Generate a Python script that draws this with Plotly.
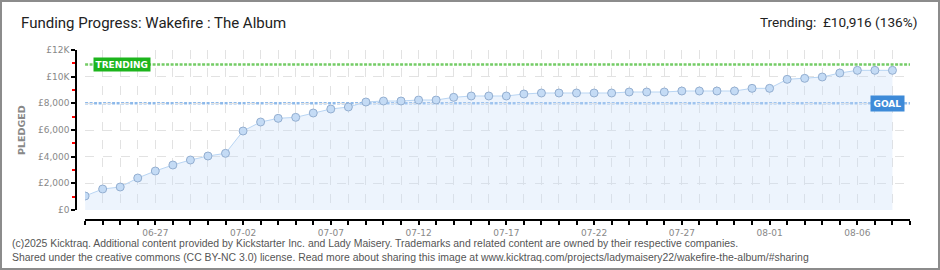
import plotly.graph_objects as go
import pandas as pd

# ---- data ----
start_date = "2025-06-23"
pledged = [1050, 1575, 1725, 2400, 2925, 3375, 3750, 4050, 4250, 5925,
           6600, 6875, 6950, 7275, 7575, 7725, 8100, 8175, 8175, 8250,
           8250, 8450, 8550, 8550, 8550, 8700, 8775, 8775, 8775, 8775,
           8775, 8850, 8850, 8850, 8925, 8925, 8925, 8925, 9125, 9125,
           9800, 9875, 9975, 10275, 10475, 10475, 10475]
goal = 8000
trending = 10916
axis_end = "2025-08-09"
y_tickvals = [0, 2000, 4000, 6000, 8000, 10000, 12000]
y_ticktext = ["£0", "£2,000", "£4,000", "£6,000", "£8,000", "£10K", "£12K"]
y_minorvals = [1000, 3000, 5000, 7000, 9000, 11000]
title_text = "Funding Progress: Wakefire : The Album"
trend_text = "Trending:  £10,916 (136%)"
footer1 = ("(c)2025 Kicktraq. Additional content provided by Kickstarter Inc. and Lady Maisery. "
           "Trademarks and related content are owned by their respective companies.")
footer2 = ("Shared under the creative commons (CC BY-NC 3.0) license. Read more about sharing this image at "
           "www.kicktraq.com/projects/ladymaisery22/wakefire-the-album/#sharing")

dates = pd.date_range(start_date, periods=len(pledged), freq="D")
tick_dates = pd.date_range(start_date, axis_end, freq="D")
tick_text = [d.strftime("%m-%d") if (i % 5 == 4) else "" for i, d in enumerate(tick_dates)]

# ---- layout geometry (pixels) ----
W, H = 940, 270
L, R, T, B = 76, 30, 50, 50
PW, PH = W - L - R, H - T - B


def px(xp):
    return (xp - L) / PW


def py(yp):
    return (H - B - yp) / PH


fig = go.Figure()
fig.add_trace(go.Scatter(
    x=dates, y=pledged, mode="lines+markers",
    line=dict(color="#b9d5f3", width=1),
    marker=dict(size=8, color="#c4dbf5", line=dict(color="#93aed0", width=1)),
    fill="tozeroy", fillcolor="rgba(200,222,248,0.32)",
    hoverinfo="skip", showlegend=False,
))

shapes = [
    dict(type="line", xref="x domain", yref="y", x0=0, x1=1, y0=goal, y1=goal,
         line=dict(color="#8db9ea", width=2.5, dash="3px,1.5px"), layer="below"),
    dict(type="line", xref="x domain", yref="y", x0=0, x1=1, y0=trending, y1=trending,
         line=dict(color="#74cc66", width=2.5, dash="3px,1.5px"), layer="below"),
    dict(type="rect", xref="paper", yref="paper",
         x0=px(1), x1=px(939), y0=py(269), y1=py(1),
         line=dict(color="#8c8c8c", width=2), fillcolor="rgba(0,0,0,0)"),
]

annotations = [
    dict(text=title_text, xref="paper", yref="paper", x=px(19), y=py(23),
         xanchor="left", yanchor="middle", showarrow=False,
         font=dict(family="Roboto", size=15, color="#222")),
    dict(text=trend_text, xref="paper", yref="paper", x=px(919), y=py(22),
         xanchor="right", yanchor="middle", showarrow=False,
         font=dict(family="Roboto", size=13.6, color="#222")),
    dict(text=footer1, xref="paper", yref="paper", x=px(10), y=py(243),
         xanchor="left", yanchor="middle", showarrow=False,
         font=dict(family="Liberation Sans", size=10.45, color="#555")),
    dict(text=footer2, xref="paper", yref="paper", x=px(10), y=py(257),
         xanchor="left", yanchor="middle", showarrow=False,
         font=dict(family="Liberation Sans", size=10.45, color="#555")),
    dict(text="<b>PLEDGED</b>", xref="paper", yref="paper", x=px(21), y=py(130),
         xanchor="center", yanchor="middle", textangle=-90, showarrow=False,
         font=dict(family="DejaVu Sans", size=9.5, color="#888")),
    dict(text="<b>TRENDING</b>", xref="paper", yref="y", x=px(93), y=trending,
         xanchor="left", yanchor="middle", showarrow=False,
         bgcolor="#1db51d", borderpad=1.5,
         font=dict(family="DejaVu Sans", size=9, color="white")),
    dict(text="<b>GOAL</b>", xref="paper", yref="y", x=px(905), y=goal,
         xanchor="right", yanchor="middle", showarrow=False,
         bgcolor="#3d8ad8", borderpad=2.5,
         font=dict(family="DejaVu Sans", size=9, color="white")),
]

fig.update_layout(
    width=W, height=H,
    margin=dict(l=L, r=R, t=T, b=B, pad=0),
    paper_bgcolor="white", plot_bgcolor="white",
    shapes=shapes, annotations=annotations,
    xaxis=dict(
        type="date", domain=[px(85.1), 1], range=[dates[0], pd.Timestamp(axis_end)],
        anchor="free", position=0,
        tickmode="array", tickvals=tick_dates, ticktext=tick_text,
        ticks="outside", ticklen=4, tickwidth=1.5, tickcolor="black",
        showline=True, linecolor="black", linewidth=1.5,
        showgrid=True, gridcolor="#e2e2e2", griddash="dash", gridwidth=1,
        zeroline=False,
        tickfont=dict(family="DejaVu Sans", size=9, color="#888"),
    ),
    yaxis=dict(
        domain=[10 / PH, 1], range=[0, 12000],
        anchor="free", position=0,
        tickmode="array", tickvals=y_tickvals, ticktext=y_ticktext,
        ticks="outside", ticklen=4, tickwidth=1.5, tickcolor="black",
        showline=True, linecolor="black", linewidth=1.5,
        showgrid=True, gridcolor="#e2e2e2", griddash="dash", gridwidth=1,
        zeroline=False,
        minor=dict(tickmode="array", tickvals=y_minorvals, ticks="outside", ticklen=3,
                   tickwidth=1.5, tickcolor="red", showgrid=False),
        tickfont=dict(family="DejaVu Sans", size=9, color="#888"),
    ),
)

fig.write_html("out.html")
